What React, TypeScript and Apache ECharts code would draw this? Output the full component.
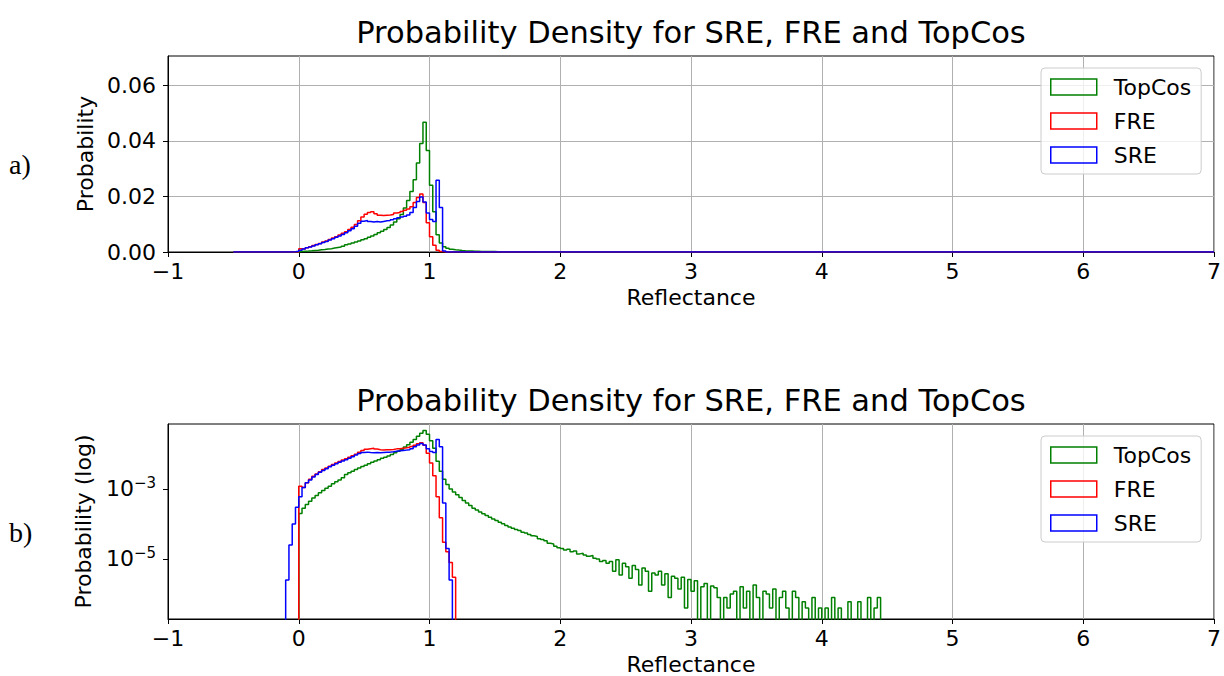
import React, { useEffect, useRef } from "react";
import * as echarts from "echarts";

// ---------- data ----------
const chartTitle = "Probability Density for SRE, FRE and TopCos";
const seriesNames = ["TopCos", "FRE", "SRE"];
const seriesColors = ["#008000", "#ff0000", "#0000ff"];
const xTicks = [-1, 0, 1, 2, 3, 4, 5, 6, 7];
const linearTicks = [0, 0.02, 0.04, 0.06];
const logTicks = [1e-5, 1e-3];

const binWidth = 0.025;
const histMin = -0.5;
const histMax = 7;

const topCosStart = 0;
const topCos = [
  0.0002, 0.00028, 0.00036, 0.00045, 0.00055, 0.00065, 0.00078, 0.0009, 0.00105, 0.0012,
  0.0014, 0.0016, 0.0018, 0.0021, 0.0026, 0.0029, 0.0032, 0.0036, 0.004, 0.0044,
  0.0048, 0.0053, 0.0058, 0.0063, 0.0069, 0.0075, 0.0081, 0.0088, 0.0097, 0.0108,
  0.012, 0.0135, 0.0158, 0.0185, 0.0218, 0.026, 0.032, 0.039, 0.0467, 0.0365,
  0.024, 0.0145, 0.0062, 0.0032, 0.0019, 0.00135, 0.001, 0.00082, 0.00068, 0.00057,
  0.00047, 0.0004, 0.00034, 0.00028, 0.00025, 0.00022, 0.000195, 0.000175, 0.000155, 0.00014,
  0.000125, 0.000112, 0.000102, 0.00009, 0.000082, 0.000076, 0.00007, 0.000065, 0.000058, 0.000055,
  0.00005, 0.000046, 0.000044, 0.000038, 0.000036, 0.000033, 0.000028, 0.000027, 0.000023, 0.000021,
  0.00002, 0.000018, 0.000019, 0.000016, 0.000017, 0.000014, 0.0000145, 0.000013, 0.000012, 0.0000125,
  0.0000105, 0.00001, 0.0000085, 0.000009, 0.0000075, 0.0000085, 0.0000045, 0.0000095, 0.0000035, 0.0000075,
  0.000006, 0.0000028, 0.0000065, 0.000005, 0.0000018, 0.0000055, 0.0000045, 0.0000012, 0.000004, 0.0000035,
  0.0000045, 0.0000018, 0.0000038, 0.0000008, 0.0000032, 0.0000028, 0.0000014, 0.000003, 0.0000004, 0.0000026,
  0.0000012, 0.0000024, 0, 0.0000016, 0.000002, 0, 0.0000017, 0.0000015, 0.0000008, 0,
  0.0000008, 0.0000004, 0.000001, 0.0000012, 0, 0.0000016, 0.0000004, 0.0000012, 0, 0.0000018,
  0.0000008, 0, 0.0000012, 0.000001, 0.0000004, 0.0000014, 0, 0.0000008, 0.0000012, 0.0000004,
  0, 0.0000012, 0.0000008, 0, 0.0000006, 0.0000004, 0, 0.0000008, 0, 0.0000004,
  0, 0.0000004, 0, 0.0000008, 0, 0.0000004, 0, 0, 0.0000006, 0,
  0, 0.0000006, 0, 0, 0.0000008, 0, 0.0000004, 0.0000008,
];

const freStart = 0;
const fre = [
  0.0012, 0.0011, 0.0015, 0.0019, 0.0023, 0.0027, 0.0031, 0.0036, 0.004, 0.0045,
  0.005, 0.0055, 0.0061, 0.0067, 0.0073, 0.0081, 0.0089, 0.0099, 0.0112, 0.0126,
  0.0136, 0.0142, 0.0145, 0.0138, 0.0132, 0.0131, 0.0132, 0.0133, 0.0135, 0.014,
  0.0142, 0.0146, 0.015, 0.0155, 0.0163, 0.0178, 0.0196, 0.0209, 0.0178, 0.0105,
  0.0055, 0.0024, 0.0006, 0.00015, 0.00003, 0.000016, 0.000008, 0.000003,
];

const sreStart = -0.1;
const sre = [
  0.0000025, 0.000025, 0.0001, 0.0003, 0.0006, 0.0011, 0.0015, 0.0018, 0.0022, 0.0026,
  0.003, 0.0034, 0.0038, 0.0043, 0.0048, 0.0053, 0.0058, 0.0063, 0.0069, 0.0076,
  0.0084, 0.0093, 0.0103, 0.0111, 0.0113, 0.011, 0.0108, 0.011, 0.0108, 0.011,
  0.0112, 0.0113, 0.0116, 0.012, 0.0123, 0.0126, 0.0129, 0.0133, 0.0142, 0.016,
  0.0182, 0.0198, 0.018, 0.014, 0.0117, 0.011, 0.0258, 0.016, 0.0004, 0.00002,
  0.0000025,
];

const seriesStarts = [topCosStart, freStart, sreStart];
const seriesValues = [topCos, fre, sre];

// ---------- helpers ----------
const FONT = "DejaVu Sans";

function stepPoints(start: number, values: number[], floor: number) {
  const pts: number[][] = [[histMin, floor], [start, floor]];
  values.forEach((v, i) => {
    pts.push([Number((start + i * binWidth).toFixed(4)), v > 0 ? v : floor]);
  });
  pts.push([Number((start + values.length * binWidth).toFixed(4)), floor]);
  pts.push([histMax, floor]);
  return pts;
}

const fmtX = (v: number) => (v < 0 ? "\u2212" + Math.abs(v) : String(v));

export default function App() {
  const ref = useRef<HTMLDivElement>(null);

  useEffect(() => {
    if (!ref.current) return;
    const chart = echarts.init(ref.current, null, { renderer: "svg" });

    const gridLeft = 168;
    const gridRight = 9;
    const axisText = { fontFamily: FONT, fontSize: 22, color: "#000" };

    const xAxisBase = (gridIndex: number) => ({
      type: "value",
      gridIndex,
      min: xTicks[0],
      max: xTicks[xTicks.length - 1],
      interval: 1,
      name: "Reflectance",
      nameLocation: "middle",
      nameGap: 34,
      nameTextStyle: axisText,
      axisLine: { onZero: false, lineStyle: { color: "#000", width: 1 } },
      axisTick: { length: 5, lineStyle: { color: "#000" } },
      axisLabel: { ...axisText, margin: 8, formatter: fmtX },
      splitLine: { show: true, lineStyle: { color: "#b0b0b0", width: 1 } },
    });

    const legendBase = (top: number) => ({
      orient: "vertical",
      left: 1041,
      top,
      padding: [7, 10, 7, 9],
      itemWidth: 46,
      itemHeight: 16,
      itemGap: 10,
      selectedMode: false,
      backgroundColor: "rgba(255,255,255,0.8)",
      borderColor: "#cccccc",
      borderWidth: 1,
      borderRadius: 4,
      textStyle: { fontFamily: FONT, fontSize: 22, color: "#000", padding: [0, 0, 0, 12], lineHeight: 24 },
      data: seriesNames.map((n, i) => ({
        name: n,
        icon: "rect",
        itemStyle: { color: "transparent", borderColor: seriesColors[i], borderWidth: 1.5 },
      })),
    });

    const drawOrder = [0, 1, 2];
    const linearSeries = drawOrder.map((i) => ({
      type: "line",
      name: seriesNames[i],
      xAxisIndex: 0,
      yAxisIndex: 0,
      step: "end",
      showSymbol: false,
      symbol: "none",
      clip: true,
      lineStyle: { color: seriesColors[i], width: 1.5 },
      itemStyle: { color: seriesColors[i] },
      data: stepPoints(seriesStarts[i], seriesValues[i], 0),
      z: 3 + i,
    }));
    const logSeries = drawOrder.map((i) => ({
      type: "line",
      name: seriesNames[i],
      xAxisIndex: 1,
      yAxisIndex: 1,
      step: "end",
      showSymbol: false,
      symbol: "none",
      clip: true,
      lineStyle: { color: seriesColors[i], width: 1.5 },
      itemStyle: { color: seriesColors[i] },
      data: stepPoints(seriesStarts[i], seriesValues[i], 1e-12),
      z: 3 + i,
    }));
    const logGridSeries = {
      type: "line",
      name: "_loggrid",
      xAxisIndex: 1,
      yAxisIndex: 1,
      data: [],
      z: 1,
      silent: true,
      markLine: {
        silent: true,
        symbol: "none",
        label: { show: false },
        animation: false,
        lineStyle: { color: "#b0b0b0", width: 1, type: "solid" },
        data: logTicks.map((v) => ({ yAxis: v })),
      },
    };

    const titleStyle = { fontFamily: FONT, fontSize: 30.5, fontWeight: "normal", color: "#000" };
    const titleX = 686;
    const option: any = {
      animation: false,
      title: [
        { text: chartTitle, left: titleX, top: 12, textAlign: "center", textStyle: titleStyle },
        { text: chartTitle, left: titleX, top: 380, textAlign: "center", textStyle: titleStyle },
      ],
      grid: [
        { left: gridLeft, right: gridRight, top: 56, height: 196, show: true, borderColor: "#000", borderWidth: 1, backgroundColor: "transparent" },
        { left: gridLeft, right: gridRight, top: 424, height: 195, show: true, borderColor: "#000", borderWidth: 1, backgroundColor: "transparent" },
      ],
      legend: [legendBase(68), legendBase(436)],
      xAxis: [xAxisBase(0), xAxisBase(1)],
      yAxis: [
        {
          type: "value",
          gridIndex: 0,
          min: 0,
          max: 0.0705,
          interval: 0.02,
          name: "Probability",
          nameLocation: "middle",
          nameGap: 66,
          nameTextStyle: axisText,
          axisLine: { show: true, onZero: false, lineStyle: { color: "#000", width: 1 } },
          axisTick: { show: true, length: 5, lineStyle: { color: "#000" }, customValues: linearTicks },
          axisLabel: {
            ...axisText,
            margin: 12,
            customValues: linearTicks,
            formatter: (v: number) => v.toFixed(2),
          },
          splitLine: { show: true, lineStyle: { color: "#b0b0b0", width: 1 } },
        },
        {
          type: "log",
          logBase: 10,
          gridIndex: 1,
          min: 1.93e-7,
          max: 0.0719,
          name: "Probability (log)",
          nameLocation: "middle",
          nameGap: 70,
          nameTextStyle: axisText,
          axisLine: { show: true, onZero: false, lineStyle: { color: "#000", width: 1 } },
          axisTick: { show: true, length: 5, lineStyle: { color: "#000" }, customValues: logTicks },
          axisLabel: {
            ...axisText,
            margin: 12,
            customValues: logTicks,
            formatter: (v: number) => {
              const e = Math.round(Math.log10(v));
              return "{b|10}{s|" + (e < 0 ? "\u2212" : "") + Math.abs(e) + "}";
            },
            rich: {
              b: { fontFamily: FONT, fontSize: 22, color: "#000" },
              s: { fontFamily: FONT, fontSize: 15, color: "#000", padding: [0, 0, 12, 0] },
            },
          },
          splitLine: { show: false },
          minorSplitLine: { show: false },
        },
      ],
      series: [logGridSeries, ...linearSeries, ...logSeries],
      graphic: [
        { type: "text", left: 9, top: 150, style: { text: "a)", fontFamily: "Liberation Serif", fontSize: 28, fill: "#000" } },
        { type: "text", left: 9, top: 518, style: { text: "b)", fontFamily: "Liberation Serif", fontSize: 28, fill: "#000" } },
      ],
    };

    chart.setOption(option);
    return () => chart.dispose();
  }, []);

  return (
    <div
      ref={ref}
      style={{ position: "absolute", left: 0, top: 0, width: 1224, height: 676, background: "#fff" }}
    />
  );
}
